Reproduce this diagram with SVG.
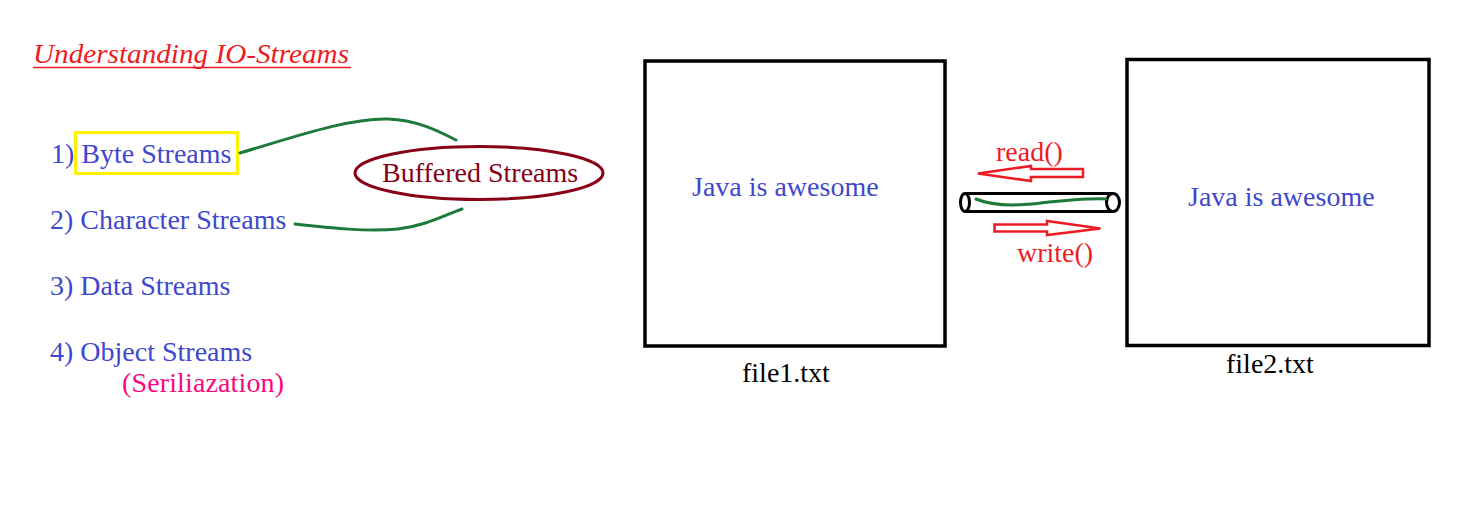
<svg xmlns="http://www.w3.org/2000/svg" width="1474" height="512" viewBox="0 0 1474 512">
<style>
text{font-family:"Liberation Serif","Times New Roman",serif;font-size:28px}
.blue{fill:#3f48cc}
.red{fill:#ed1c24}
.box{fill:none;stroke:#000;stroke-width:3.5}
.green{fill:none;stroke:#1e7a3a;stroke-width:3;stroke-linecap:round}
.arrow{fill:none;stroke:#ed1c24;stroke-width:2.5;stroke-linejoin:miter}
</style>
<rect x="0" y="0" width="1474" height="512" fill="#fff"/>
<g id="title">
<text x="33" y="63" font-style="italic" font-size="29" class="red" textLength="316" lengthAdjust="spacingAndGlyphs">Understanding IO-Streams</text>
<line x1="33" y1="67.5" x2="351" y2="67.5" stroke="#ed1c24" stroke-width="1.5"/>
</g>
<g id="byte-streams">
<rect x="75.5" y="132.5" width="162" height="41" fill="none" stroke="#fff200" stroke-width="3"/>
<text x="51" y="163" class="blue">1) Byte Streams</text>
</g>
<g id="character-streams">
<text x="50" y="229" class="blue">2) Character Streams</text>
</g>
<g id="data-streams">
<text x="50" y="295" class="blue">3) Data Streams</text>
</g>
<g id="object-streams">
<text x="50" y="361" class="blue">4) Object Streams</text>
<text x="122" y="392" fill="#f7087f" textLength="162">(Seriliazation)</text>
</g>
<g id="buffered-streams">
<ellipse cx="479" cy="173" rx="124" ry="26.5" fill="none" stroke="#880015" stroke-width="3"/>
<text x="382" y="182" fill="#880015">Buffered Streams</text>
</g>
<g id="file1">
<rect x="645" y="61" width="300" height="285" class="box"/>
<text x="692" y="196" class="blue">Java is awesome</text>
<text x="742" y="382">file1.txt</text>
</g>
<g id="file2">
<rect x="1127" y="59.5" width="302" height="286" class="box"/>
<text x="1188" y="206" class="blue">Java is awesome</text>
<text x="1226" y="373">file2.txt</text>
</g>
<g id="pipe">
<line x1="965" y1="193.5" x2="1113" y2="193.5" stroke="#000" stroke-width="3"/>
<line x1="965" y1="211.5" x2="1113" y2="211.5" stroke="#000" stroke-width="3"/>
<ellipse cx="965" cy="202.5" rx="4.5" ry="9" fill="#fff" stroke="#000" stroke-width="3"/>
<ellipse cx="1113" cy="202.5" rx="6.5" ry="9" fill="#fff" stroke="#000" stroke-width="3"/>
</g>
<g id="connectors">
<path class="green" d="M240,153 C300,135 350,118 388,119 C418,120 440,132 456,140"/>
<path class="green" d="M295,224 C330,228 368,232 398,229 C425,226 445,215 462,209"/>
<path class="green" d="M976,199 C990,205 1010,206 1032,204 C1060,201 1085,198 1106,199"/>
<polygon class="arrow" points="978,173.5 1031,166 1031,169 1083,169 1083,177 1031,177 1031,181"/>
<text x="996" y="161" class="red">read()</text>
<polygon class="arrow" points="994.5,224.5 1047,224.5 1047,221 1100.5,228.5 1047,235 1047,231.5 994.5,231.5"/>
<text x="1017" y="262" class="red">write()</text>
</g>
</svg>
